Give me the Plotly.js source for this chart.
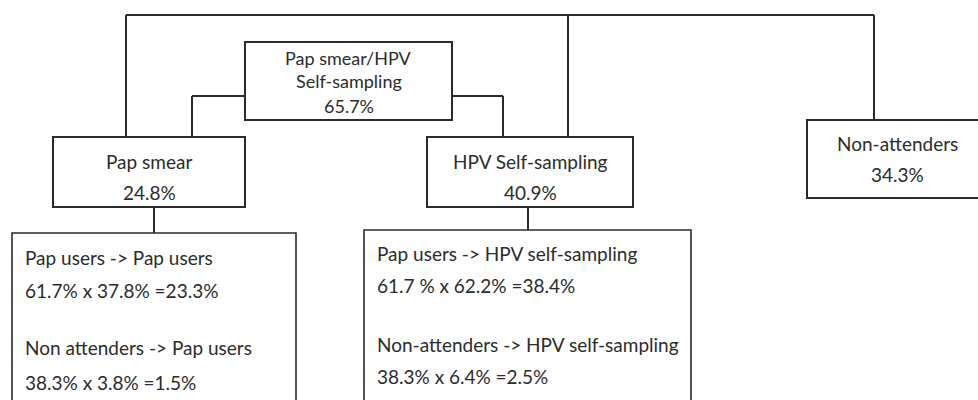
<!DOCTYPE html>
<html>
<head>
<meta charset="utf-8">
<script src="https://cdn.plot.ly/plotly-3.0.1.min.js"></script>
<style>
  html, body { margin: 0; padding: 0; background: #fff; }
  #chart { width: 978px; height: 400px; }
</style>
</head>
<body>
<div id="chart"></div>
<script>
// ---------- DATA ----------
const nodeLabels = ["Pap smear/HPV<br>Self-sampling", "Pap smear", "HPV Self-sampling", "Non-attenders"];
const nodeShares = [65.7, 24.8, 40.9, 34.3];

const transitionLabels = [
  "Pap users -> Pap users",
  "Non attenders -> Pap users",
  "Pap users -> HPV self-sampling",
  "Non-attenders -> HPV self-sampling"
];
const fromShares = [61.7, 38.3, 61.7, 38.3];
const toShares = [37.8, 3.8, 62.2, 6.4];
const resultShares = [23.3, 1.5, 38.4, 2.5];
const fromPctSpacing = ["", "", " ", ""];

// ---------- LAYOUT (pixel coordinates on a 978x400 canvas) ----------
const FONT = "Lato, 'Open Sans', sans-serif";
const FS = 19;
const LINE = { color: "#2b2b2b", width: 2 };

// node boxes: [x0, y0, x1, y1], text centre x, text line y's, font size
const nodeBoxes = [
  { box: [245, 42, 452, 120], cx: 348.5, ys: [58, 81, 106], fs: 18 },
  { box: [53, 137, 245, 207], cx: 149, ys: [161, 192], fs: FS },
  { box: [427, 137, 633, 207], cx: 530, ys: [161, 192], fs: FS },
  { box: [807, 120, 988, 198], cx: 897, ys: [143, 174], fs: FS }
];
// transition boxes
const transBoxes = [
  { box: [12, 233, 296, 412], x: 23 },
  { box: [364, 230, 691, 412], x: 375 }
];
const transTextY = [[257, 290], [347, 382], [253, 285], [344, 376]];
const transBoxIndex = [0, 0, 1, 1];

// connectors (polylines)
const connectors = [
  [[126, 137], [126, 15], [874, 15], [874, 120]],
  [[568, 15], [568, 137]],
  [[245, 96], [192, 96], [192, 137]],
  [[452, 96], [503, 96], [503, 137]],
  [[154, 207], [154, 233]],
  [[528, 207], [528, 230]]
];

const shapes = [];
const annotations = [];

connectors.forEach(pts => {
  for (let i = 0; i < pts.length - 1; i++) {
    shapes.push({ type: "line", xref: "x", yref: "y",
      x0: pts[i][0], y0: pts[i][1], x1: pts[i + 1][0], y1: pts[i + 1][1], line: LINE });
  }
});

nodeBoxes.forEach((nb, i) => {
  shapes.push({ type: "rect", xref: "x", yref: "y",
    x0: nb.box[0], y0: nb.box[1], x1: nb.box[2], y1: nb.box[3],
    line: LINE, fillcolor: "rgba(255,255,255,1)" });
  const lines = nodeLabels[i].split("<br>").concat([nodeShares[i].toFixed(1) + "%"]);
  lines.forEach((t, k) => {
    annotations.push({ xref: "x", yref: "y", x: nb.cx, y: nb.ys[k], text: t,
      showarrow: false, xanchor: "center", yanchor: "middle", borderpad: 0,
      font: { family: FONT, size: nb.fs, color: "#2b2b2b" } });
  });
});

transBoxes.forEach(tb => {
  shapes.push({ type: "rect", xref: "x", yref: "y",
    x0: tb.box[0], y0: tb.box[1], x1: tb.box[2], y1: tb.box[3],
    line: { color: "#2b2b2b", width: 1.6 }, fillcolor: "rgba(255,255,255,1)" });
});

transitionLabels.forEach((lab, i) => {
  const tb = transBoxes[transBoxIndex[i]];
  const calc = fromShares[i].toFixed(1) + fromPctSpacing[i] + "% x " +
               toShares[i].toFixed(1) + "% =" + resultShares[i].toFixed(1) + "%";
  [lab, calc].forEach((t, k) => {
    annotations.push({ xref: "x", yref: "y", x: tb.x, y: transTextY[i][k], text: t,
      showarrow: false, xanchor: "left", yanchor: "middle",
      font: { family: FONT, size: FS, color: "#2b2b2b" } });
  });
});

const layout = {
  width: 978, height: 400,
  margin: { l: 0, r: 0, t: 0, b: 0 },
  paper_bgcolor: "#fff", plot_bgcolor: "#fff",
  showlegend: false,
  xaxis: { range: [0, 978], visible: false, fixedrange: true },
  yaxis: { range: [400, 0], visible: false, fixedrange: true },
  shapes: shapes,
  annotations: annotations
};

Plotly.newPlot("chart", [], layout, { staticPlot: true, displayModeBar: false });
</script>
</body>
</html>
